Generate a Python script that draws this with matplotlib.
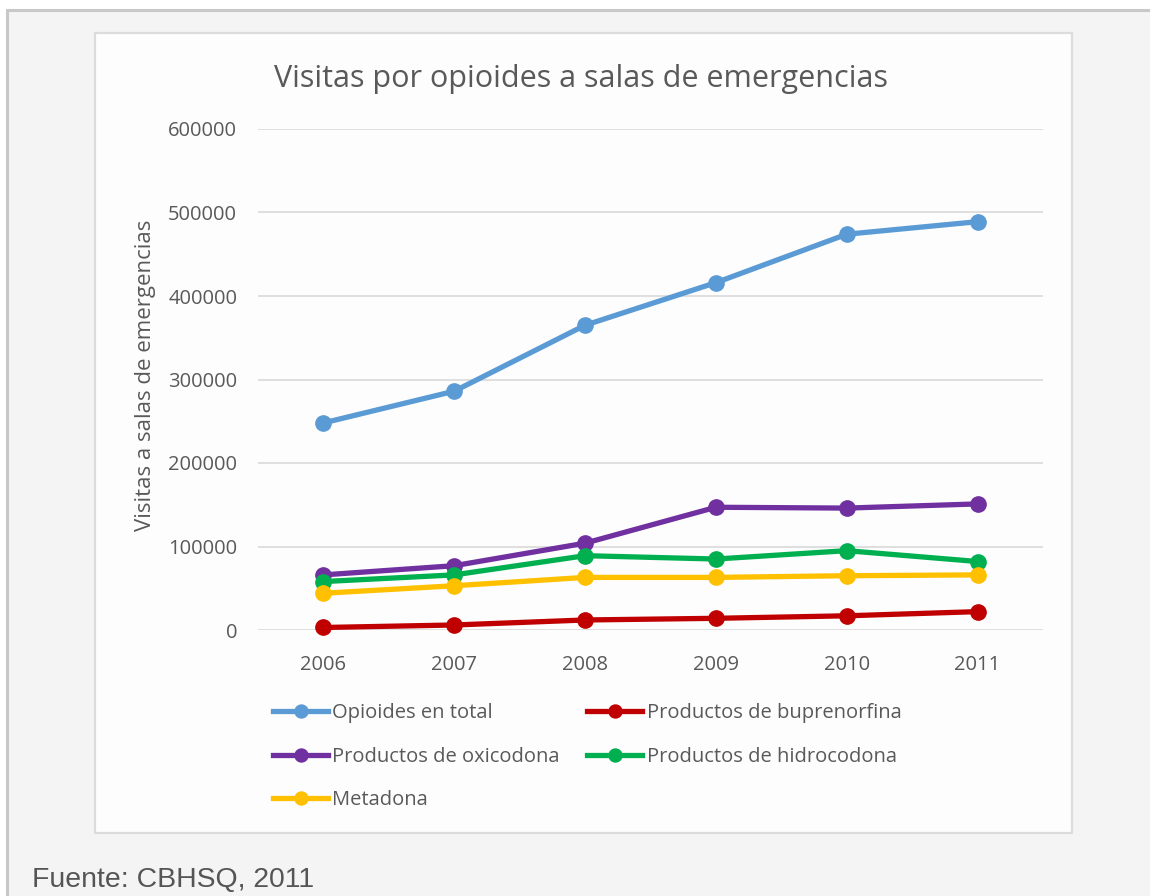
import matplotlib.pyplot as plt
from matplotlib.patches import Rectangle

# data
years = ["2006", "2007", "2008", "2009", "2010", "2011"]
total = [248000, 286000, 365000, 416000, 474000, 489000]
bupre = [3000, 6000, 12000, 14000, 17000, 22000]
oxi = [66000, 77000, 104000, 147000, 146000, 151000]
hidro = [58000, 66000, 89000, 85000, 95000, 82000]
meta = [44000, 53000, 63000, 63000, 65000, 66000]

yticks = [0, 100000, 200000, 300000, 400000, 500000, 600000]

W, H = 1150, 896
plt.rcParams['font.family'] = ['Open Sans', 'DejaVu Sans']
txt = '#595959'

fig = plt.figure(figsize=(W / 100, H / 100), dpi=100, facecolor='white')

# outer page frame and inner chart box (kept behind the axes)
fig.patches.append(Rectangle((7 / W, -0.1), 1.2, 1 - 10 / H + 0.1,
                             transform=fig.transFigure, facecolor='#f4f4f4',
                             edgecolor='#c8c8c8', lw=2.2, zorder=-2))
fig.patches.append(Rectangle((95 / W, 1 - 833 / H), (1072 - 95) / W, (833 - 33) / H,
                             transform=fig.transFigure, facecolor='#fdfdfd',
                             edgecolor='#dcdcdc', lw=1.6, zorder=-1))

ax = fig.add_axes([258 / W, 1 - 630 / H, (1043 - 258) / W, (630 - 129) / H])
ax.set_facecolor('none')

x = list(range(len(years)))
series = [
    (total, '#5b9bd5', 'Opioides en total'),
    (bupre, '#c00000', 'Productos de buprenorfina'),
    (oxi, '#7030a0', 'Productos de oxicodona'),
    (hidro, '#00b050', 'Productos de hidrocodona'),
    (meta, '#ffc000', 'Metadona'),
]
lines = {}
for vals, col, lab in series:
    ln, = ax.plot(x, vals, color=col, lw=3.8, marker='o', markersize=11,
                  label=lab, clip_on=False, zorder=3)
    lines[lab] = ln

ax.set_xlim(-0.5, len(years) - 0.5)
ax.set_ylim(0, 600000)
ax.set_xticks(x)
ax.set_xticklabels(years)
ax.set_yticks(yticks)
ax.set_yticklabels([str(v) for v in yticks])
ax.tick_params(axis='both', length=0, labelsize=14.5, labelcolor=txt)
ax.tick_params(axis='y', pad=15)
ax.tick_params(axis='x', pad=18)
ax.grid(axis='y', color='#d9d9d9', lw=1.2)
ax.set_axisbelow(True)
for s in ax.spines.values():
    s.set_visible(False)

order = ['Opioides en total', 'Productos de oxicodona', 'Metadona',
         'Productos de buprenorfina', 'Productos de hidrocodona']
ax.legend([lines[k] for k in order], order, ncol=2, loc='upper left',
          bbox_to_anchor=(273 / W, 1 - 703 / H), bbox_transform=fig.transFigure,
          frameon=False, borderpad=0, borderaxespad=0, handlelength=2.75,
          handletextpad=0.2, columnspacing=1.35, labelspacing=1.17,
          markerscale=0.85, prop={'size': 14.5}, labelcolor=txt)

fig.text(581 / W, 1 - 79 / H, 'Visitas por opioides a salas de emergencias',
         ha='center', va='center', fontsize=22, color=txt)
fig.text(146 / W, 1 - 375 / H, 'Visitas a salas de emergencias', rotation=90,
         ha='center', va='center', fontsize=16, color=txt)
fig.text(32 / W, 1 - 887 / H, 'Fuente: CBHSQ, 2011', ha='left', va='baseline',
         fontsize=20.4, color='#555555', family='Liberation Sans')

fig.savefig('out.png', dpi=100, facecolor=fig.get_facecolor())
